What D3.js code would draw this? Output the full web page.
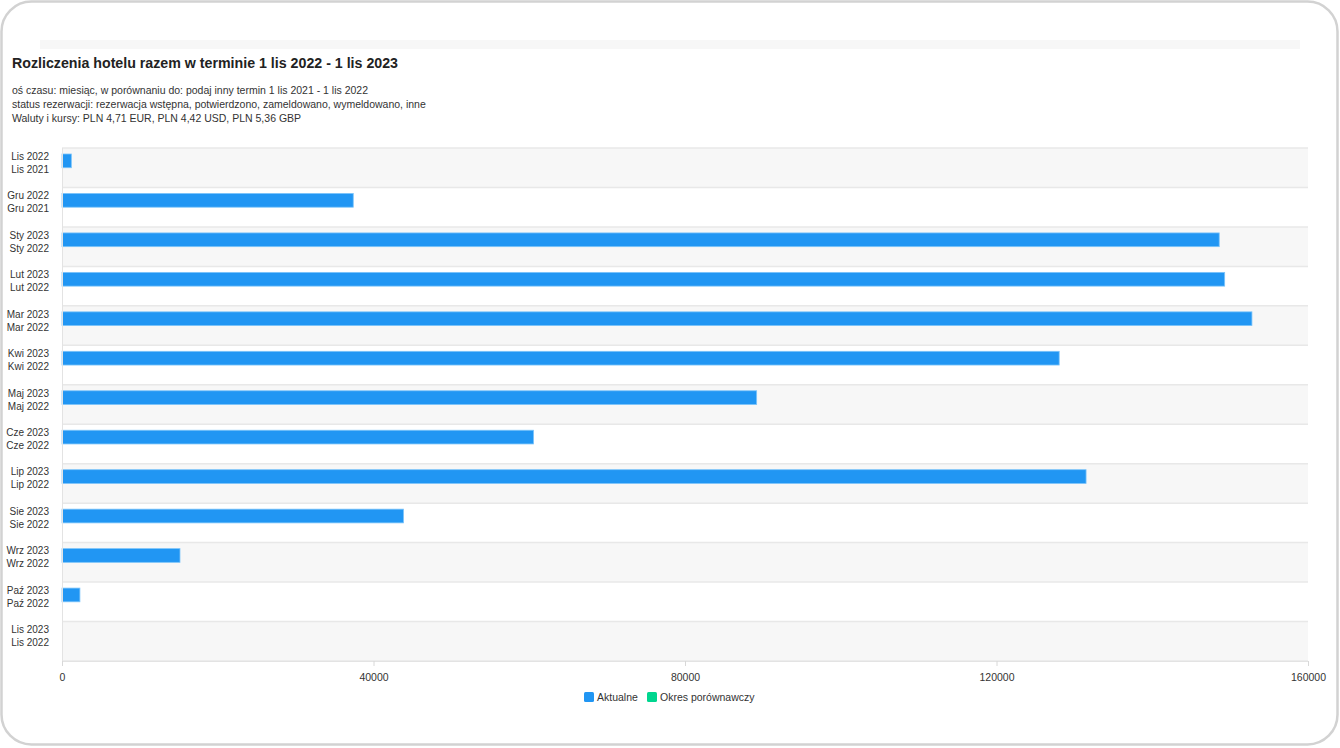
<!DOCTYPE html>
<html><head><meta charset="utf-8">
<script src="https://cdn.jsdelivr.net/npm/d3@7"></script>
<style>
html,body{margin:0;padding:0;background:#fff;}
svg{display:block;font-family:"Liberation Sans",Arial,sans-serif;}
</style></head>
<body>
<svg id="c" width="1340" height="748"></svg>
<script>
const categories = ["Lis 2022","Gru 2022","Sty 2023","Lut 2023","Mar 2023","Kwi 2023","Maj 2023","Cze 2023","Lip 2023","Sie 2023","Wrz 2023","Paź 2023","Lis 2023"];
const compareLabels = ["Lis 2021","Gru 2021","Sty 2022","Lut 2022","Mar 2022","Kwi 2022","Maj 2022","Cze 2022","Lip 2022","Sie 2022","Wrz 2022","Paź 2022","Lis 2022"];
const currentValues = [1200, 37400, 148600, 149300, 152800, 128050, 89200, 60550, 131500, 43850, 15150, 2300, 0];
const compareValues = [0, 0, 0, 0, 0, 0, 0, 0, 0, 0, 0, 0, 0];
const seriesNames = ["Aktualne", "Okres porównawczy"];
const seriesColors = ["#2196f3", "#00d68f"];
const xTicks = [0, 40000, 80000, 120000, 160000];
const title = "Rozliczenia hotelu razem w terminie 1 lis 2022 - 1 lis 2023";
const subtitle = [
  "oś czasu: miesiąc, w porównaniu do: podaj inny termin 1 lis 2021 - 1 lis 2022",
  "status rezerwacji: rezerwacja wstępna, potwierdzono, zameldowano, wymeldowano, inne",
  "Waluty i kursy: PLN 4,71 EUR, PLN 4,42 USD, PLN 5,36 GBP"
];

const svg = d3.select("#c");
// frame
svg.append("rect").attr("x",1.5).attr("y",1.5).attr("width",1336).attr("height",743)
  .attr("rx",30).attr("fill","#fff").attr("stroke","#d2d2d2").attr("stroke-width",2.5);
svg.append("rect").attr("x",40).attr("y",40).attr("width",1260).attr("height",9).attr("fill","#f7f7f7");

svg.append("text").attr("x",12).attr("y",68).attr("font-size",14).attr("font-weight","bold")
  .attr("fill","#222").attr("textLength",386).attr("lengthAdjust","spacingAndGlyphs").text(title);
subtitle.forEach((s,i)=>{
  svg.append("text").attr("x",12).attr("y",94+i*14).attr("font-size",10.5).attr("fill","#333").text(s);
});

const m = {left:62, right:1308, top:148, bottom:661};
const x = d3.scaleLinear().domain([0,160000]).range([m.left, m.right]);
const y = d3.scaleBand().domain(categories).range([m.top, m.bottom]);
const sub = d3.scaleBand().domain([0,1]).range([6, y.bandwidth()-6]).padding(0);

const g = svg.append("g");
// bands
g.selectAll("rect.band").data(categories).join("rect").attr("class","band")
  .attr("x",m.left).attr("width",m.right-m.left)
  .attr("y",d=>y(d)).attr("height",y.bandwidth())
  .attr("fill",(d,i)=>i%2===0?"#f7f7f7":"#ffffff");
// grid lines
g.selectAll("line.grid").data(d3.range(categories.length+1)).join("line").attr("class","grid")
  .attr("x1",m.left).attr("x2",m.right)
  .attr("y1",i=>m.top + i*y.step()).attr("y2",i=>m.top + i*y.step())
  .attr("stroke","#e8e8e8").attr("stroke-width",1.5);

// bars
const series = [currentValues, compareValues];
series.forEach((vals,si)=>{
  g.selectAll("rect.s"+si).data(categories).join("rect").attr("class","s"+si)
    .attr("x",x(0)).attr("y",d=>y(d)+sub(si))
    .attr("width",(d,i)=>Math.max(0,x(vals[i])-x(0)))
    .attr("height",sub.bandwidth())
    .attr("fill",seriesColors[si])
    .attr("stroke",(d,i)=>vals[i]>0?"#7cc4fa":"none").attr("stroke-width",0.8);
});

// left axis line
g.append("line").attr("x1",m.left+0.5).attr("x2",m.left+0.5).attr("y1",m.top).attr("y2",m.bottom+5)
  .attr("stroke","#e3e3e3").attr("stroke-width",1);

// y labels
categories.forEach((c,i)=>{
  const cy = y(c)+y.bandwidth()/2;
  const t = g.append("text").attr("text-anchor","end").attr("font-size",10).attr("fill","#333");
  t.append("tspan").attr("x",49).attr("y",cy-11.5+3.5).text(c);
  t.append("tspan").attr("x",49).attr("y",cy+1.5+3.5).text(compareLabels[i]);
});

// x axis
const xa = g.append("g").attr("transform",`translate(0,${m.bottom})`)
  .call(d3.axisBottom(x).tickValues(xTicks).tickFormat(d3.format("d")).tickSize(5).tickPadding(8));
xa.select(".domain").attr("stroke","#e3e3e3").attr("d",`M${m.left},0.5H${m.right}`);
xa.selectAll(".tick line").attr("stroke","#d8d8d8");
xa.selectAll(".tick text").attr("font-size",10.5).attr("fill","#333")
  .attr("font-family","'Liberation Sans',Arial,sans-serif");

// legend
const leg = svg.append("g");
const legX = [584, 647];
seriesNames.forEach((n,i)=>{
  leg.append("rect").attr("x",legX[i]).attr("y",692).attr("width",10).attr("height",10).attr("rx",1.5)
    .attr("fill",seriesColors[i]);
  leg.append("text").attr("x",legX[i]+13).attr("y",701).attr("font-size",10.5).attr("fill","#333").text(n);
});
</script>
</body></html>
